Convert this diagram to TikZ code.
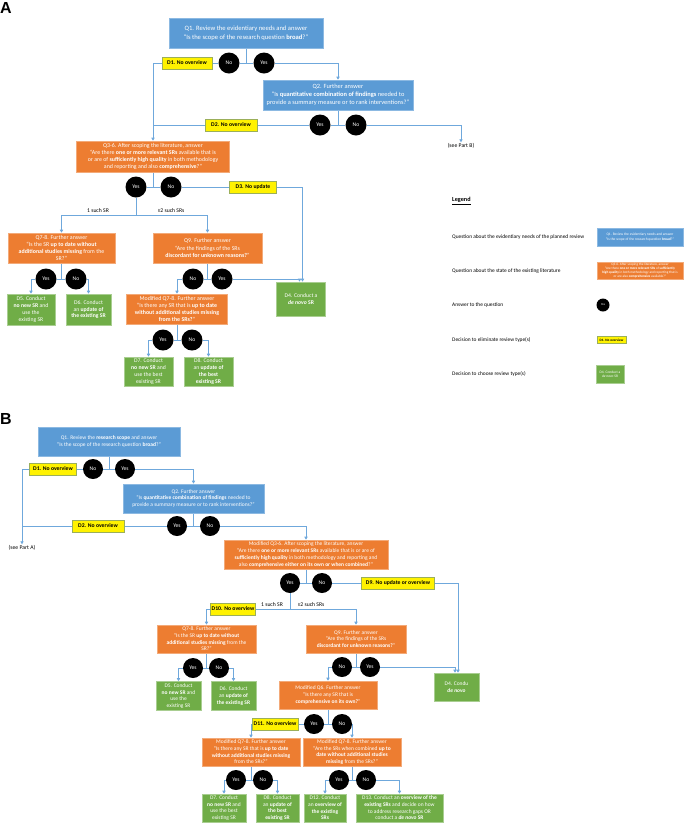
\documentclass[tikz,border=0pt]{standalone}
\usepackage{fontspec}
\setmainfont{Carlito}
\newfontfamily\hdfont{Liberation Sans}
\usepackage{tikz}
\usetikzlibrary{arrows.meta}
\definecolor{qblue}{HTML}{5B9BD5}
\definecolor{qorange}{HTML}{ED7D31}
\definecolor{dgreen}{HTML}{70AD47}
\definecolor{lnblue}{HTML}{6FA8DC}
\definecolor{yedge}{HTML}{9BAF5A}
\pgfdeclarelayer{bg}
\pgfsetlayers{bg,main}
\tikzset{
  ln/.style={draw=lnblue,line width=0.8pt},
  arr/.style={ln,-{Triangle[length=3pt,width=3.2pt]}},
  sz/.style 2 args={minimum width=#1pt,minimum height=#2pt},
  qbox/.style={text=white,align=center,inner sep=0.8pt,line width=0.6pt,font=\fontsize{5.9}{7.2}\selectfont},
  qb/.style={qbox,fill=qblue,draw=qblue!70!white},
  qo/.style={qbox,fill=qorange,draw=qorange!65!white},
  dg/.style={qbox,fill=dgreen,draw=dgreen!60!white,font=\fontsize{5.7}{6.8}\selectfont},
  dy/.style={fill=yellow,draw=yedge,line width=0.7pt,inner sep=1pt,font=\fontsize{5.7}{6}\selectfont\bfseries},
  ans/.style={circle,fill=black,minimum size=21pt,inner sep=0pt,text=white,font=\fontsize{5.6}{6}\selectfont},
  ab/.style={ans,minimum size=20pt},
  txt/.style={font=\fontsize{5.7}{7}\selectfont,inner sep=1pt},
  legt/.style={txt,font=\fontsize{5.4}{6.5}\selectfont,anchor=west},
  hd/.style={font=\hdfont\fontsize{16}{16}\selectfont\bfseries,anchor=west,inner sep=0pt},
  big/.style={font=\fontsize{6.6}{8.6}\selectfont},
  sm/.style={font=\fontsize{5.5}{6.7}\selectfont},
  tiny/.style={font=\fontsize{3.6}{4.3}\selectfont}
}

\begin{document}
\begin{tikzpicture}[x=1pt,y=-1pt]
\useasboundingbox (0,0) rectangle (685,823);

% part A
\node[hd] (ttla) at (0,8) {A};
\node[qb,big,sz={154}{30}] (q1a) at (246,33) {Q1. Review the evidentiary needs and answer\\“Is the scope of the research question \textbf{broad}?”};
\node[ans] (noa1) at (229,63) {No};
\node[ans] (yesa1) at (264,63) {Yes};
\node[dy,sz={50}{12}] (d1a) at (187,63) {D1. No overview};
\node[qb,sz={150}{30},font=\fontsize{6.4}{8}\selectfont] (q2a) at (338,95) {Q2. Further answer\\“Is \textbf{quantitative combination of findings} needed to\\provide a summary measure or to rank interventions?”};
\node[ans] (yesa2) at (320,125) {Yes};
\node[ans] (noa2) at (356,125) {No};
\node[dy,sz={52}{12}] (d2a) at (231,125) {D2. No overview};
\node[txt] (seeb) at (461,146) {(see Part B)};
\node[qo,sz={153}{31}] (q3a) at (153,156.5) {Q3-6. After scoping the literature, answer\\“Are there \textbf{one or more relevant SRs} available that is\\or are of \textbf{sufficiently high quality} in both methodology\\and reporting and also \textbf{comprehensive}?”};
\node[ans] (yesa3) at (136,187) {Yes};
\node[ans] (noa3) at (171,187) {No};
\node[dy,sz={47}{12}] (d3a) at (253,187) {D3. No update};
\coordinate (forka) at (136,215);
\node[txt] (s1a) at (98,211) {1 such SR};
\node[txt] (s2a) at (171,211) {≥2 such SRs};
\node[qo,sz={107}{30}] (q78a) at (61.5,248) {Q7-8. Further answer\\“Is the SR \textbf{up to date without}\\\textbf{additional studies missing} from the\\SR?”};
\node[qo,sz={109}{30}] (q9a) at (207.5,248) {Q9. Further answer\\“Are the findings of the SRs\\\textbf{discordant for unknown reasons?}”};
\node[ans] (yesa4) at (46,279) {Yes};
\node[ans] (noa4) at (76,279) {No};
\node[ans] (noa5) at (193,279) {No};
\node[ans] (yesa5) at (222,279) {Yes};
\node[dg,sz={48}{31}] (d5a) at (31,309.5) {D5. Conduct\\\textbf{no new SR} and\\use the\\existing SR};
\node[dg,sz={45}{31}] (d6a) at (88.5,309.5) {D6. Conduct\\an \textbf{update of}\\\textbf{the existing SR}};
\node[dg,sz={49}{34}] (d4a) at (301,299) {D4. Conduct a\\\textbf{\textit{de novo} SR}};
\node[qo,sz={101}{30}] (mq78a) at (177,309) {Modified Q7-8. Further answer\\“Is there any SR that is \textbf{up to date}\\\textbf{without additional studies missing}\\\textbf{from the SRs?}”};
\node[ans] (yesa6) at (163,340) {Yes};
\node[ans] (noa6) at (192,340) {No};
\node[dg,sz={49}{29}] (d7a) at (148.5,371.5) {D7. Conduct\\\textbf{no new SR} and\\use the best\\existing SR};
\node[dg,sz={49}{29}] (d8a) at (208.5,371.5) {D8. Conduct\\an \textbf{update of}\\\textbf{the best}\\\textbf{existing SR}};

% legend
\node[legt,font=\fontsize{6.2}{7}\selectfont] (lgd) at (451,201) {\underline{\textbf{Legend}}};
\node[legt] (lt1) at (451,237) {Question about the evidentiary needs of the planned review};
\node[qb,tiny,sz={86}{18}] (lb1) at (640,237) {Q1. Review the evidentiary needs and answer\\“Is the scope of the research question \textbf{broad}?”};
\node[legt] (lt2) at (451,271) {Question about the state of the existing literature};
\node[qo,tiny,sz={86}{17},font=\fontsize{3.4}{4.1}\selectfont] (lb2) at (640,270.5) {Q3-6. After scoping the literature, answer\\“Are there \textbf{one or more relevant SRs} of \textbf{sufficiently}\\\textbf{high quality} in both methodology and reporting that is\\or are also \textbf{comprehensive} available?”};
\node[legt] (lt3) at (451,305) {Answer to the question};
\node[ans,minimum size=13pt,font=\fontsize{3}{3}\selectfont] (lc3) at (603,305) {Yes};
\node[legt] (lt4) at (451,340) {Decision to eliminate review type(s)};
\node[dy,sz={29}{7},font=\fontsize{3.4}{4}\selectfont\bfseries] (ly4) at (611.5,340) {D1. No overview};
\node[legt] (lt5) at (451,374) {Decision to choose review type(s)};
\node[dg,tiny,sz={28}{18}] (lg5) at (610,374) {D4. Conduct a\\\textit{de novo} SR};

% part B
\node[hd] (ttlb) at (0,419) {B};
\node[qb,sm,sz={142}{29}] (q1b) at (109,441.5) {Q1. Review the \textbf{research scope} and answer\\“Is the scope of the research question \textbf{broad}?”};
\node[ab] (nob1) at (93,469) {No};
\node[ab] (yesb1) at (125,469) {Yes};
\node[dy,sz={47}{12}] (d1b) at (53,469) {D1. No overview};
\node[qb,sm,sz={141}{29}] (q2b) at (193.5,498.5) {Q2. Further answer\\“Is \textbf{quantitative combination of findings} needed to\\provide a summary measure or to rank interventions?”};
\node[ab] (yesb2) at (177,526) {Yes};
\node[ab] (nob2) at (210,526) {No};
\node[dy,sz={52}{12}] (d2b) at (98,526) {D2. No overview};
\node[txt] (seea) at (22,548) {(see Part A)};
\node[qo,sm,sz={164}{29}] (mq36b) at (306,554.5) {Modified Q3-6. After scoping the literature, answer\\“Are there \textbf{one or more relevant SRs} available that is or are of\\\textbf{sufficiently high quality} in both methodology and reporting and\\also \textbf{comprehensive either on its own or when combined}?”};
\node[ab] (yesb3) at (290,583) {Yes};
\node[ab] (nob3) at (322,583) {No};
\node[dy,sz={73}{12}] (d9b) at (398,583) {D9. No update or overview};
\coordinate (forkb) at (290,609);
\node[dy,sz={45}{12}] (d10b) at (233,609) {D10. No overview};
\node[txt] (s1b) at (272,605) {1 such SR};
\node[txt] (s2b) at (311,605) {≥2 such SRs};
\node[qo,sm,sz={99}{28}] (q78b) at (206.5,639) {Q7-8. Further answer\\“Is the SR \textbf{up to date without}\\\textbf{additional studies missing} from the\\SR?”};
\node[qo,sm,sz={100}{28}] (q9b) at (356,639) {Q9. Further answer\\“Are the findings of the SRs\\\textbf{discordant for unknown reasons?}”};
\node[ab] (yesb4) at (193,668) {Yes};
\node[ab] (nob4) at (219,668) {No};
\node[ab] (nob5) at (342,667) {No};
\node[ab] (yesb5) at (370,667) {Yes};
\node[dg,sm,sz={45}{29}] (d5b) at (178.5,696) {D5. Conduct\\\textbf{no new SR} and\\use the\\existing SR};
\node[dg,sm,sz={45}{29}] (d6b) at (233.5,696) {D6. Conduct\\an \textbf{update of}\\\textbf{the existing SR}};
\node[dg,sm,sz={45}{28}] (d4b) at (456.5,687) {D4. Condu\\\textbf{\textit{de novo}}};
\node[qo,sm,sz={98}{28}] (mq6b) at (328,695) {Modified Q6. Further answer\\“Is there any SR that is\\\textbf{comprehensive on its own?}”};
\node[ab] (yesb6) at (314,724) {Yes};
\node[ab] (nob6) at (342,724) {No};
\node[dy,sz={46}{12}] (d11b) at (275,724) {D11. No overview};
\node[qo,sm,sz={98}{28}] (mq78lb) at (251,752) {Modified Q7-8. Further answer\\“Is there any SR that is \textbf{up to date}\\\textbf{without additional studies missing}\\from the SRs?”};
\node[qo,sm,sz={98}{28}] (mq78rb) at (352,752) {Modified Q7-8. Further answer\\“Are the SRs when combined \textbf{up to}\\\textbf{date without additional studies}\\\textbf{missing} from the SRs?”};
\node[ab] (yesb7) at (236,780) {Yes};
\node[ab] (nob7) at (263,780) {No};
\node[ab] (yesb8) at (339,780) {Yes};
\node[ab] (nob8) at (366,780) {No};
\node[dg,sm,sz={44}{28}] (d7b) at (224,808) {D7. Conduct\\\textbf{no new SR} and\\use the best\\existing SR};
\node[dg,sm,sz={43}{28}] (d8b) at (277.5,808) {D8. Conduct\\an \textbf{update of}\\\textbf{the best}\\\textbf{existing SR}};
\node[dg,sm,sz={42}{28}] (d12b) at (325,808) {D12. Conduct\\an \textbf{overview of}\\\textbf{the existing}\\\textbf{SRs}};
\node[dg,sm,sz={87}{28}] (d13b) at (399.5,808) {D13. Conduct an \textbf{overview of the}\\\textbf{existing SRs} and decide on how\\to address research gaps OR\\conduct a \textbf{\textit{de novo} SR}};

\begin{pgfonlayer}{bg}
\fill[white] (0,0) rectangle (685,823);
% connectors A
\draw[ln] (q1a) -- (q1a |- noa1);
\draw[ln] (noa1) -- (yesa1);
\draw[arr] (yesa1) -| (q2a);
\draw[ln] (noa1) -- (d1a);
\draw[arr] (d1a) -| (q3a);
\draw[ln] (q2a) -- (q2a |- yesa2);
\draw[ln] (yesa2) -- (noa2);
\draw[arr] (noa2) -| (seeb);
\draw[ln] (yesa2) -- (d2a);
\draw[ln] (d2a) -- (d2a -| q3a);
\draw[ln] (q3a) -- (q3a |- yesa3);
\draw[ln] (yesa3) -- (noa3) -- (d3a);
\draw[arr] (d3a) -| ([xshift=1.5pt]d4a.north);
\draw[ln] (yesa3) -- (forka);
\draw[arr] (forka) -| (q78a);
\draw[arr] (forka) -| (q9a);
\draw[ln] (q78a) -- (q78a |- yesa4);
\draw[ln] (yesa4) -- (noa4);
\draw[arr] (yesa4) -| (d5a);
\draw[arr] (noa4) -| (d6a);
\draw[ln] (q9a) -- (q9a |- noa5);
\draw[ln] (noa5) -- (yesa5);
\draw[arr] (noa5) -| (mq78a);
\draw[arr] (yesa5) -| ([xshift=-1.5pt]d4a.north);
\draw[ln] (mq78a) -- (mq78a |- yesa6);
\draw[ln] (yesa6) -- (noa6);
\draw[arr] (yesa6) -| (d7a);
\draw[arr] (noa6) -| (d8a);
% connectors B
\draw[ln] (q1b) -- (q1b |- nob1);
\draw[ln] (nob1) -- (yesb1);
\draw[arr] (yesb1) -| (q2b);
\draw[ln] (nob1) -- (d1b);
\draw[arr] (d1b) -| (seea);
\draw[ln] (q2b) -- (q2b |- yesb2);
\draw[ln] (yesb2) -- (nob2);
\draw[arr] (nob2) -| (mq36b);
\draw[ln] (yesb2) -- (d2b);
\draw[ln] (d2b) -- (d2b -| seea);
\draw[ln] (mq36b) -- (mq36b |- yesb3);
\draw[ln] (yesb3) -- (nob3) -- (d9b);
\draw[arr] (d9b) -| ([xshift=1.5pt]d4b.north);
\draw[ln] (yesb3) -- (forkb) -- (d10b);
\draw[arr] (d10b) -| (q78b);
\draw[arr] (forkb) -| (q9b);
\draw[ln] (q78b) -- (q78b |- yesb4);
\draw[ln] (yesb4) -- (nob4);
\draw[arr] (yesb4) -| (d5b);
\draw[arr] (nob4) -| (d6b);
\draw[ln] (q9b) -- (q9b |- nob5);
\draw[ln] (nob5) -- (yesb5);
\draw[arr] (nob5) -| (mq6b);
\draw[arr] (yesb5) -| ([xshift=-1.5pt]d4b.north);
\draw[ln] (mq6b) -- (mq6b |- yesb6);
\draw[ln] (yesb6) -- (nob6);
\draw[ln] (yesb6) -- (d11b);
\draw[arr] (d11b) -| (mq78lb);
\draw[arr] (nob6) -| (mq78rb);
\draw[ln] (mq78lb) -- (mq78lb |- yesb7);
\draw[ln] (yesb7) -- (nob7);
\draw[arr] (yesb7) -| (d7b);
\draw[arr] (nob7) -| (d8b);
\draw[ln] (mq78rb) -- (mq78rb |- yesb8);
\draw[ln] (yesb8) -- (nob8);
\draw[arr] (yesb8) -| (d12b);
\draw[arr] (nob8) -| (d13b);
\end{pgfonlayer}
\end{tikzpicture}
\end{document}
